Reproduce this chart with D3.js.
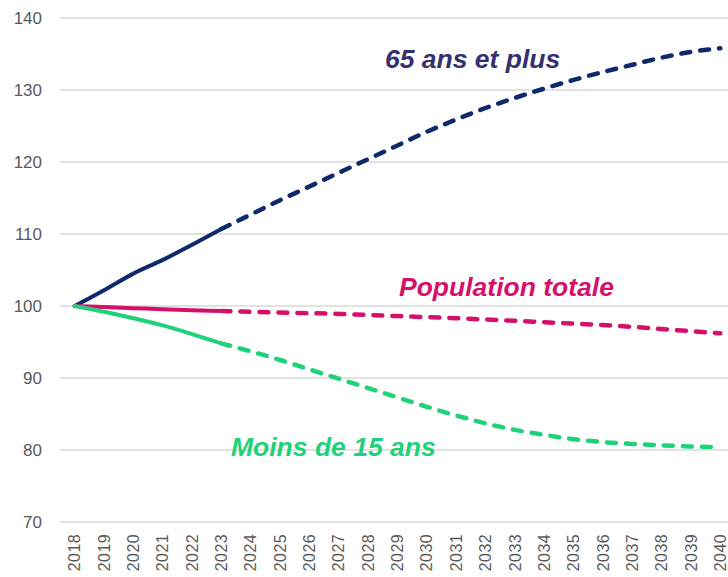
<!DOCTYPE html>
<html>
<head>
<meta charset="utf-8">
<script src="https://cdn.jsdelivr.net/npm/d3@7"></script>
<style>
  html, body { margin: 0; padding: 0; background: #fff; }
  svg { display: block; }
</style>
</head>
<body>
<svg id="chart" width="728" height="577"></svg>
<script>
const years = ["2018","2019","2020","2021","2022","2023","2024","2025","2026","2027","2028","2029","2030","2031","2032","2033","2034","2035","2036","2037","2038","2039","2040"];
const yTicks = [70, 80, 90, 100, 110, 120, 130, 140];
const lastObserved = "2023";

const seniors = [100, 102.2, 104.5, 106.4, 108.5, 110.7, 112.7, 114.7, 116.6, 118.5, 120.4, 122.3, 124.2, 125.9, 127.5, 128.9, 130.2, 131.4, 132.5, 133.5, 134.5, 135.3, 135.8];
const totale = [100, 99.85, 99.7, 99.55, 99.42, 99.3, 99.2, 99.1, 99.0, 98.9, 98.75, 98.6, 98.45, 98.3, 98.12, 97.94, 97.75, 97.55, 97.35, 97.1, 96.8, 96.5, 96.2];
const jeunes = [100, 99.2, 98.3, 97.3, 96.1, 94.8, 93.7, 92.5, 91.2, 89.9, 88.6, 87.3, 86.0, 84.8, 83.7, 82.8, 82.1, 81.5, 81.1, 80.85, 80.65, 80.5, 80.4];

const seriesNames = ["65 ans et plus", "Population totale", "Moins de 15 ans"];
const seriesColors = ["#0e2a6b", "#d5106b", "#1fd27a"];
const labelColors = ["#35316f", "#d5106b", "#1fd27a"];

const svg = d3.select("#chart");
const x = d3.scaleBand().domain(years).range([60, 735]).padding(0);
const y = d3.scaleLinear().domain([70, 140]).range([522, 18]);
const cx = d => x(d) + x.bandwidth() / 2;

// gridlines
svg.append("g").selectAll("line").data(yTicks).join("line")
  .attr("x1", 60).attr("x2", 735)
  .attr("y1", d => y(d)).attr("y2", d => y(d))
  .attr("stroke", "#d9d9d9").attr("stroke-width", 1.5);

// y axis
const yAxis = svg.append("g").attr("transform", "translate(60,0)")
  .call(d3.axisLeft(y).tickValues(yTicks).tickSize(0).tickPadding(18));
yAxis.select(".domain").remove();
yAxis.selectAll("text")
  .attr("font-family", "Liberation Sans, Arial, sans-serif")
  .attr("font-size", 17).attr("fill", "#595959");

// x axis
const xAxis = svg.append("g").attr("transform", "translate(0,522)")
  .call(d3.axisBottom(x).tickSize(0).tickPadding(0));
xAxis.select(".domain").remove();
xAxis.selectAll("text")
  .attr("font-family", "Liberation Sans, Arial, sans-serif")
  .attr("font-size", 16).attr("fill", "#595959")
  .attr("letter-spacing", 0.4)
  .attr("text-anchor", "end")
  .attr("transform", "rotate(-90)")
  .attr("x", -12).attr("y", 0).attr("dy", "0.35em");

// lines
const allSeries = [seniors, totale, jeunes];
const idx = years.indexOf(lastObserved);
const line = d3.line().x(d => cx(d.year)).y(d => y(d.v)).curve(d3.curveMonotoneX);

allSeries.forEach((vals, i) => {
  const pts = years.map((yr, k) => ({year: yr, v: vals[k]}));
  svg.append("path").datum(pts.slice(0, idx + 1))
    .attr("d", line).attr("fill", "none")
    .attr("stroke", seriesColors[i]).attr("stroke-width", 4)
    .attr("stroke-linecap", "round").attr("stroke-linejoin", "round");
  svg.append("path").datum(pts.slice(idx))
    .attr("d", line).attr("fill", "none")
    .attr("stroke", seriesColors[i]).attr("stroke-width", 4.5)
    .attr("stroke-linecap", "round")
    .attr("stroke-dasharray", "9,10");
});

// labels
const labelPos = [[385, 68], [399, 296], [231, 456]];
seriesNames.forEach((name, i) => {
  svg.append("text")
    .attr("x", labelPos[i][0]).attr("y", labelPos[i][1])
    .attr("font-family", "Liberation Sans, Arial, sans-serif")
    .attr("font-weight", "bold").attr("font-style", "italic")
    .attr("font-size", 26.5)
    .attr("fill", labelColors[i])
    .text(name);
});
</script>
</body>
</html>
